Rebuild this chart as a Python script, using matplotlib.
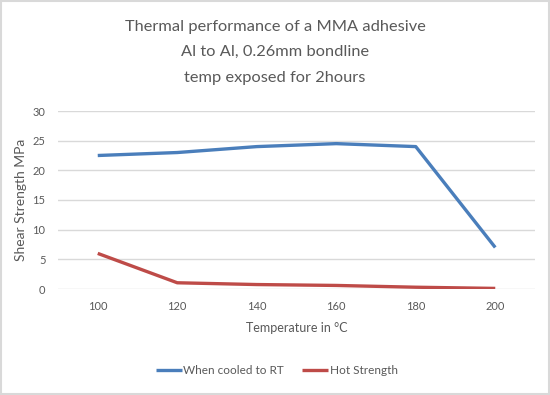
import matplotlib
matplotlib.use('Agg')
import matplotlib.pyplot as plt
import numpy as np

# data
temps = ['100', '120', '140', '160', '180', '200']
cooled_rt = [22.5, 23.0, 24.0, 24.5, 24.0, 7.0]
hot_strength = [6.0, 1.05, 0.75, 0.6, 0.3, 0.1]

plt.rcParams['font.family'] = ['Lato', 'DejaVu Sans']
txt = '#595959'

fig = plt.figure(figsize=(5.5, 3.95), dpi=100)
ax = fig.add_axes([58 / 550, 1 - 289 / 395, 477 / 550, 178 / 395])

x = np.arange(len(temps))
ax.plot(x, cooled_rt, color='#4A7EBB', linewidth=2.4, label='When cooled to RT', solid_capstyle='butt')
ax.plot(x, hot_strength, color='#BE4B48', linewidth=2.4, label='Hot Strength', solid_capstyle='butt')

ax.set_xlim(-0.5, len(temps) - 0.5)
ax.set_ylim(0, 30)
ax.set_yticks(range(0, 31, 5))
ax.set_xticks(x)
ax.set_xticklabels(temps)
ax.tick_params(length=0, labelsize=8, colors=txt, pad=9)
ax.grid(axis='y', color='#D9D9D9', linewidth=1)
ax.set_axisbelow(True)
for s in ax.spines.values():
    s.set_visible(False)

ax.set_xlabel('Temperature in °C', fontsize=9, color=txt, labelpad=7)
ax.set_ylabel('Shear Strength MPa', fontsize=10, color=txt, labelpad=4)

fig.text(0.5, 1 - 27 / 395, 'Thermal performance of a MMA adhesive', ha='center', va='center', fontsize=11.8, color=txt)
fig.text(0.5, 1 - 52 / 395, 'Al to Al, 0.26mm bondline', ha='center', va='center', fontsize=11.8, color=txt)
fig.text(0.5, 1 - 78 / 395, 'temp exposed for 2hours', ha='center', va='center', fontsize=11.8, color=txt)

fig.legend(loc='center', bbox_to_anchor=(0.503, 1 - 371 / 395), ncol=2, frameon=False,
           fontsize=8.5, labelcolor=txt, handlelength=2.2, handletextpad=0.15, columnspacing=1.5)

# border
fig.patches.append(plt.Rectangle((0.002, 0.002), 0.996, 0.996, transform=fig.transFigure,
                                 fill=False, edgecolor='#D9D9D9', linewidth=1.5))

fig.savefig('out.png', dpi=100)
